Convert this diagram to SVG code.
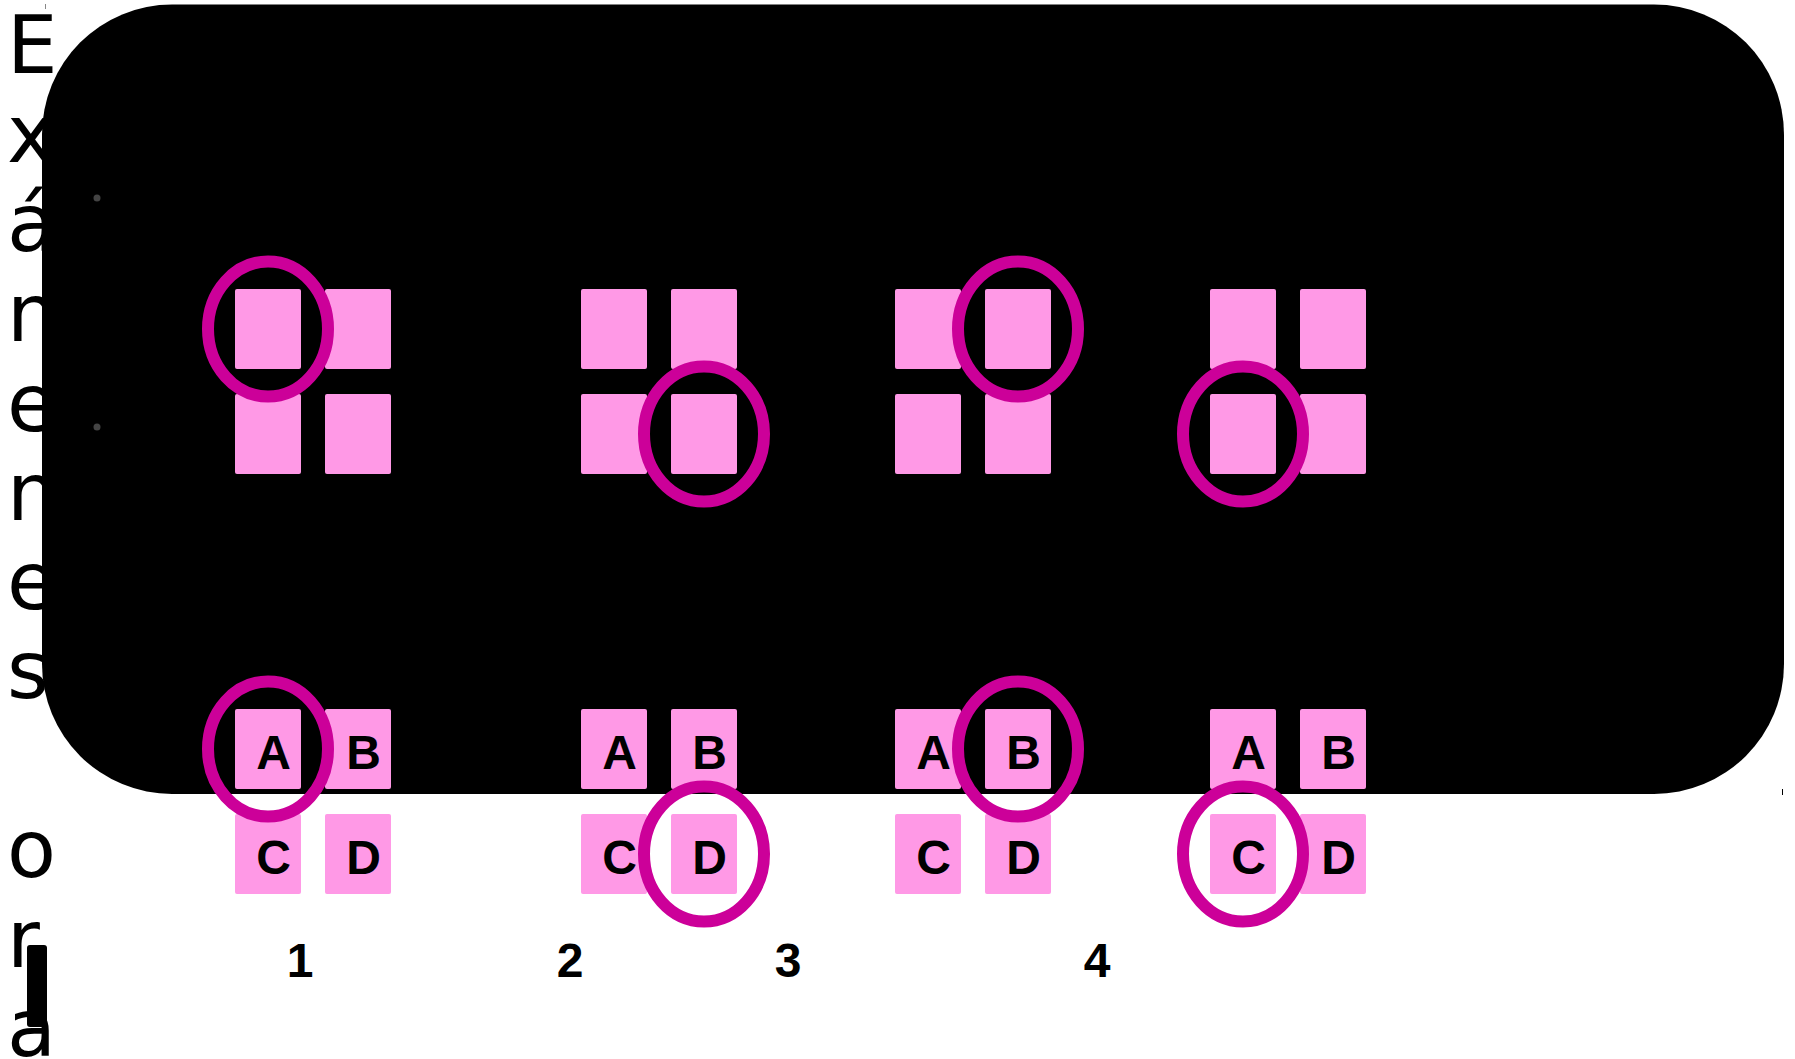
<svg xmlns="http://www.w3.org/2000/svg" width="1795" height="1059" viewBox="0 0 1795 1059">
<style>
.vt{font-family:"DejaVu Sans",sans-serif;font-size:80px;fill:#000}
.sq{fill:#FF99E6;stroke:none}
.lb{font-family:"Liberation Sans",Arial,sans-serif;font-weight:bold;font-size:48px;fill:#000;text-anchor:middle}
.num{font-family:"Liberation Sans",Arial,sans-serif;font-weight:bold;font-size:48px;fill:#000;text-anchor:middle}
.ring{fill:none;stroke:#CC0099;stroke-width:12}
.dot{fill:#444}
</style>
<rect x="0" y="0" width="1795" height="1059" fill="#fff"/>
<g id="title">
<text class="vt" x="7" y="73">E</text>
<text class="vt" x="7" y="162">x</text>
<text class="vt" x="7" y="251">á</text>
<text class="vt" x="7" y="341">n</text>
<text class="vt" x="7" y="431">e</text>
<text class="vt" x="7" y="520">n</text>
<text class="vt" x="7" y="609">e</text>
<text class="vt" x="7" y="698">s</text>
<text class="vt" x="7" y="877">o</text>
<text class="vt" x="7" y="967">r</text>
<text class="vt" x="7" y="1056">a</text>
</g>
<g id="panel">
<rect x="42" y="4.5" width="1742" height="789.5" rx="130" ry="130" fill="#000"/>
<circle class="dot" cx="97" cy="198" r="3.5"/>
<circle class="dot" cx="97" cy="427" r="3.5"/>
<line x1="45.5" y1="4" x2="45.5" y2="9" stroke="#888" stroke-width="1"/>
<line x1="1782.5" y1="789" x2="1782.5" y2="795" stroke="#000" stroke-width="1"/>
</g>
<rect id="bar" x="27" y="945" width="20" height="82" rx="3" fill="#000"/>
<g id="group1-top">
<rect class="sq" x="235" y="289" width="66" height="80" rx="2"/>
<rect class="sq" x="325" y="289" width="66" height="80" rx="2"/>
<rect class="sq" x="235" y="394" width="66" height="80" rx="2"/>
<rect class="sq" x="325" y="394" width="66" height="80" rx="2"/>
<ellipse class="ring" cx="268" cy="329" rx="60" ry="67.5"/>
</g>
<g id="group2-top">
<rect class="sq" x="581" y="289" width="66" height="80" rx="2"/>
<rect class="sq" x="671" y="289" width="66" height="80" rx="2"/>
<rect class="sq" x="581" y="394" width="66" height="80" rx="2"/>
<rect class="sq" x="671" y="394" width="66" height="80" rx="2"/>
<ellipse class="ring" cx="704" cy="434" rx="60" ry="67.5"/>
</g>
<g id="group3-top">
<rect class="sq" x="895" y="289" width="66" height="80" rx="2"/>
<rect class="sq" x="985" y="289" width="66" height="80" rx="2"/>
<rect class="sq" x="895" y="394" width="66" height="80" rx="2"/>
<rect class="sq" x="985" y="394" width="66" height="80" rx="2"/>
<ellipse class="ring" cx="1018" cy="329" rx="60" ry="67.5"/>
</g>
<g id="group4-top">
<rect class="sq" x="1210" y="289" width="66" height="80" rx="2"/>
<rect class="sq" x="1300" y="289" width="66" height="80" rx="2"/>
<rect class="sq" x="1210" y="394" width="66" height="80" rx="2"/>
<rect class="sq" x="1300" y="394" width="66" height="80" rx="2"/>
<ellipse class="ring" cx="1243" cy="434" rx="60" ry="67.5"/>
</g>
<g id="group1-bottom">
<rect class="sq" x="235" y="709" width="66" height="80" rx="2"/>
<rect class="sq" x="325" y="709" width="66" height="80" rx="2"/>
<rect class="sq" x="235" y="814" width="66" height="80" rx="2"/>
<rect class="sq" x="325" y="814" width="66" height="80" rx="2"/>
<text class="lb" x="273.5" y="769">A</text>
<text class="lb" x="363.5" y="769">B</text>
<text class="lb" x="273.5" y="874">C</text>
<text class="lb" x="363.5" y="874">D</text>
<ellipse class="ring" cx="268" cy="749" rx="60" ry="67.5"/>
</g>
<g id="group2-bottom">
<rect class="sq" x="581" y="709" width="66" height="80" rx="2"/>
<rect class="sq" x="671" y="709" width="66" height="80" rx="2"/>
<rect class="sq" x="581" y="814" width="66" height="80" rx="2"/>
<rect class="sq" x="671" y="814" width="66" height="80" rx="2"/>
<text class="lb" x="619.5" y="769">A</text>
<text class="lb" x="709.5" y="769">B</text>
<text class="lb" x="619.5" y="874">C</text>
<text class="lb" x="709.5" y="874">D</text>
<ellipse class="ring" cx="704" cy="854" rx="60" ry="67.5"/>
</g>
<g id="group3-bottom">
<rect class="sq" x="895" y="709" width="66" height="80" rx="2"/>
<rect class="sq" x="985" y="709" width="66" height="80" rx="2"/>
<rect class="sq" x="895" y="814" width="66" height="80" rx="2"/>
<rect class="sq" x="985" y="814" width="66" height="80" rx="2"/>
<text class="lb" x="933.5" y="769">A</text>
<text class="lb" x="1023.5" y="769">B</text>
<text class="lb" x="933.5" y="874">C</text>
<text class="lb" x="1023.5" y="874">D</text>
<ellipse class="ring" cx="1018" cy="749" rx="60" ry="67.5"/>
</g>
<g id="group4-bottom">
<rect class="sq" x="1210" y="709" width="66" height="80" rx="2"/>
<rect class="sq" x="1300" y="709" width="66" height="80" rx="2"/>
<rect class="sq" x="1210" y="814" width="66" height="80" rx="2"/>
<rect class="sq" x="1300" y="814" width="66" height="80" rx="2"/>
<text class="lb" x="1248.5" y="769">A</text>
<text class="lb" x="1338.5" y="769">B</text>
<text class="lb" x="1248.5" y="874">C</text>
<text class="lb" x="1338.5" y="874">D</text>
<ellipse class="ring" cx="1243" cy="854" rx="60" ry="67.5"/>
</g>
<g id="numbers">
<text class="num" x="300" y="977">1</text>
<text class="num" x="570" y="977">2</text>
<text class="num" x="788" y="977">3</text>
<text class="num" x="1097" y="977">4</text>
</g>
<g id="connectors"></g>
</svg>
